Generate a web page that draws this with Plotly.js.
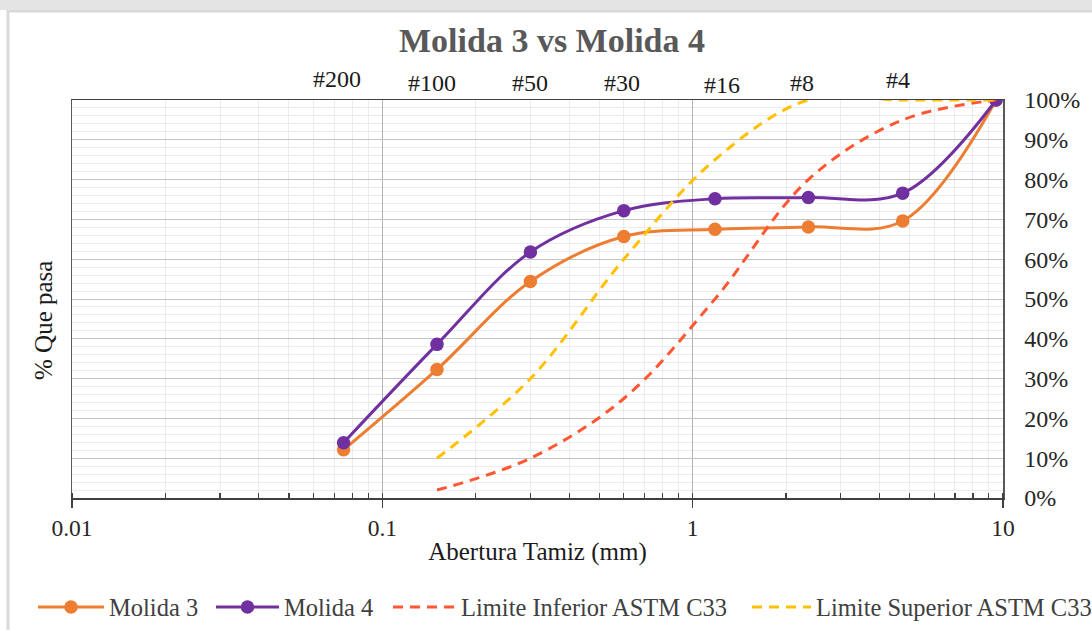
<!DOCTYPE html>
<html>
<head>
<meta charset="utf-8">
<script src="https://cdn.plot.ly/plotly-3.0.1.min.js"></script>
<style>
  html, body { margin: 0; padding: 0; background: #ffffff; }
  #chart { width: 1092px; height: 630px; }
</style>
</head>
<body>
<div id="chart"></div>
<script>
// ---- Data ----
const sieveSizes = [0.075, 0.15, 0.3, 0.6, 1.18, 2.36, 4.75, 9.5];   // mm
const sieveLabels = ['#200', '#100', '#50', '#30', '#16', '#8', '#4'];
const molida3 = [12.1, 32.3, 54.4, 65.7, 67.5, 68.1, 69.6, 100];
const molida4 = [13.9, 38.6, 61.8, 72.2, 75.2, 75.5, 76.6, 100];
const limitSizes = [0.15, 0.3, 0.6, 1.18, 2.36, 4.75, 9.5];
const limiteInferior = [2, 10, 25, 50, 80, 95, 100];
const limiteSuperior = [10, 30, 60, 85, 100, 100, 100];
const xTickVals = [0.01, 0.1, 1, 10];
const xTickText = ['0.01', '0.1', '1', '10'];

// ---- Styling ----
const serif = 'Liberation Serif';
const cOrange = '#ED7D31';
const cPurple = '#7030A0';
const cRed = '#FF5733';
const cYellow = '#FFC000';

const traces = [
  { x: sieveSizes, y: molida3, name: 'Molida 3', type: 'scatter', mode: 'lines+markers', legend: 'legend',
    line: { color: cOrange, width: 3, shape: 'spline', smoothing: 1 },
    marker: { color: cOrange, size: 13.5 } },
  { x: sieveSizes, y: molida4, name: 'Molida 4', type: 'scatter', mode: 'lines+markers', legend: 'legend2',
    line: { color: cPurple, width: 3, shape: 'spline', smoothing: 1 },
    marker: { color: cPurple, size: 13.5 } },
  { x: limitSizes, y: limiteInferior, name: 'Limite Inferior ASTM C33', type: 'scatter', mode: 'lines', legend: 'legend3',
    line: { color: cRed, width: 3, dash: '10px,7px', shape: 'spline', smoothing: 1 } },
  { x: limitSizes, y: limiteSuperior, name: 'Limite Superior ASTM C33', type: 'scatter', mode: 'lines', legend: 'legend4',
    line: { color: cYellow, width: 3, dash: '10px,7px', shape: 'spline', smoothing: 1 } }
];

// small hand-placement nudges of the sieve text boxes (px)
const labelNudgeX = [-7, -5, 0, -2, 7, -6, -5];
const labelNudgeY = [6, 2, 2, 2, 0, 2, 5];

const annotations = sieveLabels.map((t, i) => ({
  text: t, xref: 'x', yref: 'paper',
  x: Math.log10(sieveSizes[i]), y: 1,
  xanchor: 'center', yanchor: 'bottom',
  xshift: labelNudgeX[i], yshift: labelNudgeY[i],
  showarrow: false,
  font: { family: serif, size: 24, color: '#1a1a1a' }
}));
annotations.push({
  text: '% Que pasa', xref: 'paper', yref: 'paper',
  x: (43 - 72) / 931, y: (498 - 321) / 398,
  xanchor: 'center', yanchor: 'middle', textangle: -90, showarrow: false,
  font: { family: serif, size: 25, color: '#1a1a1a' }
});

// legend boxes (left edge in px, symbol width in px)
function legendAt(leftPx, symW) {
  return {
    orientation: 'h', x: (leftPx - 72) / 931, xanchor: 'left',
    y: (498 - 607) / 398, yanchor: 'middle',
    font: { family: serif, size: 24.5, color: '#404040' },
    itemwidth: symW, bgcolor: 'rgba(0,0,0,0)', borderwidth: 0
  };
}

const layout = {
  width: 1092, height: 630,
  margin: { l: 72, r: 89, t: 100, b: 132, autoexpand: false },
  paper_bgcolor: '#ffffff', plot_bgcolor: '#ffffff',
  font: { family: serif, color: '#262626' },
  title: {
    text: '<b>Molida 3 vs Molida 4</b>',
    font: { family: serif, size: 34, color: '#595959' },
    x: (552 - 72) / 931, xanchor: 'center', xref: 'paper',
    y: 1 - 40 / 630, yanchor: 'middle', yref: 'container'
  },
  xaxis: {
    type: 'log', range: [-2, 1],
    tickvals: xTickVals, ticktext: xTickText,
    tickfont: { family: serif, size: 23.5, color: '#262626' },
    ticks: 'outside', ticklen: 8, tickcolor: '#404040', tickwidth: 1.3,
    showline: true, linecolor: '#404040', linewidth: 1.5, mirror: true,
    showgrid: true, gridcolor: '#b3b3b3', gridwidth: 1,
    minor: { dtick: 'D1', ticks: 'inside', ticklen: 5, tickcolor: '#404040', tickwidth: 1.2,
             showgrid: true, gridcolor: '#ececec', gridwidth: 1 },
    zeroline: false,
    title: { text: 'Abertura Tamiz (mm)', font: { family: serif, size: 25, color: '#1a1a1a' }, standoff: 3 }
  },
  yaxis: {
    side: 'right', range: [0, 100], dtick: 10, ticksuffix: '%',
    tickfont: { family: serif, size: 24, color: '#262626' },
    ticks: '', ticklabelstandoff: 15,
    showline: true, linecolor: '#595959', linewidth: 1.5, mirror: true,
    showgrid: true, gridcolor: '#c4c4c4', gridwidth: 1,
    minor: { dtick: 2, showgrid: true, gridcolor: '#ececec', gridwidth: 1, ticks: '' },
    zeroline: false
  },
  legend: legendAt(33, 66),
  legend2: legendAt(211, 63),
  legend3: legendAt(388, 63),
  legend4: legendAt(747, 59),
  annotations: annotations,
  shapes: [
    { type: 'rect', xref: 'paper', yref: 'paper', layer: 'below',
      x0: (8 - 72) / 931, x1: (1110 - 72) / 931, y0: (498 - 650) / 398, y1: (498 - 11) / 398,
      line: { color: '#d9d9d9', width: 3 }, fillcolor: 'rgba(0,0,0,0)' },
    { type: 'rect', xref: 'paper', yref: 'paper', layer: 'below',
      x0: (0 - 72) / 931, x1: (1100 - 72) / 931, y0: (498 - 10) / 398, y1: (498 + 2) / 398,
      line: { width: 0 }, fillcolor: '#e4e4e4' }
  ],
  showlegend: true
};

Plotly.newPlot('chart', traces, layout, { displayModeBar: false, staticPlot: true });
</script>
</body>
</html>
